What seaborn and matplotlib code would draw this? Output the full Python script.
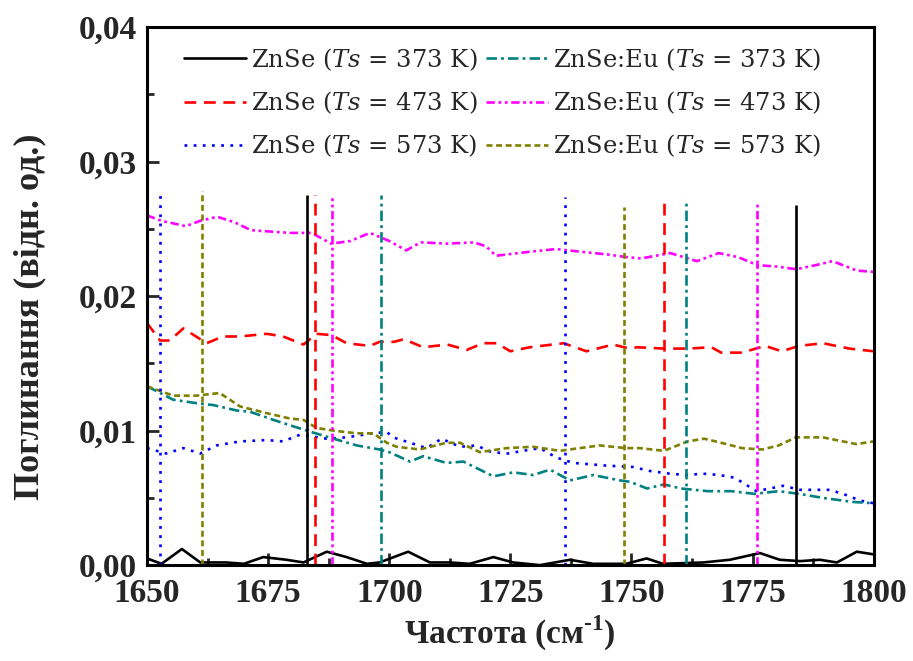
import numpy as np
import pandas as pd
import matplotlib
matplotlib.use("Agg")
import matplotlib.pyplot as plt
import seaborn as sns
from matplotlib.ticker import MultipleLocator, FuncFormatter

# ---------------- data ----------------
x_373 = [1650, 1653, 1657.2, 1661, 1666.4, 1670, 1674, 1678.8, 1682.3, 1687.1, 1691.2, 1695.4, 1698,
         1703.9, 1708.4, 1712.5, 1716.6, 1721.5, 1725.6, 1731.1, 1737.3, 1742.1, 1748.9, 1753.1,
         1756.5, 1764.8, 1770.3, 1776.5, 1780.6, 1784.8, 1788.9, 1792.4, 1796.5, 1800]
y_373 = [0.0005, 0.0001, 0.0012, 0.0002, 0.0002, 0.0001, 0.0006, 0.0004, 0.0002, 0.0010, 0.0006, 0.0001,
         0.0002, 0.0010, 0.0002, 0.0002, 0.0001, 0.0006, 0.0002, 0.0000, 0.0004, 0.0001, 0.0001, 0.0005,
         0.0001, 0.0002, 0.0004, 0.0009, 0.0004, 0.0003, 0.0004, 0.0002, 0.0010, 0.0008]

x_473 = [1650, 1652.7, 1654.7, 1657.5, 1662.3, 1665.7, 1669.2, 1674.7, 1678.1, 1682.3, 1685, 1688.1,
         1691.2, 1696, 1698, 1701, 1703, 1707, 1712, 1716, 1719.4, 1722.2, 1725, 1729, 1736, 1740.7,
         1746.2, 1749.6, 1751.2, 1756.7, 1761.6, 1766.5, 1768.5, 1772.8, 1777.6, 1781, 1784.6, 1789.5,
         1795, 1800]
y_473 = [0.0180, 0.0167, 0.0167, 0.0176, 0.0165, 0.0170, 0.0170, 0.0172, 0.0170, 0.0164, 0.0172, 0.0171,
         0.0165, 0.0163, 0.0166, 0.0166, 0.0168, 0.0162, 0.0164, 0.0160, 0.0165, 0.0165, 0.0159, 0.0162,
         0.0165, 0.0159, 0.0164, 0.0161, 0.0162, 0.0161, 0.0161, 0.0162, 0.0158, 0.0158, 0.0163, 0.0159,
         0.0163, 0.0165, 0.0161, 0.0159]

x_573 = [1650, 1654, 1657.5, 1661, 1664.4, 1669.2, 1674.7, 1678.1, 1681.6, 1687.1, 1691.2, 1696.6,
         1699.5, 1700.8, 1704.3, 1707.7, 1710.8, 1714.6, 1718, 1721.1, 1724.5, 1727.6, 1731.1, 1734.5,
         1738, 1741.4, 1744.8, 1750.3, 1753.8, 1757.9, 1761.3, 1764.8, 1768.2, 1771.3, 1775.8, 1781.3,
         1784.8, 1791, 1794.4, 1797.2, 1800]
y_573 = [0.0087, 0.0083, 0.0087, 0.0083, 0.0089, 0.0092, 0.0093, 0.0092, 0.0097, 0.0094, 0.0095, 0.0098,
         0.0099, 0.0095, 0.0091, 0.0087, 0.0094, 0.0088, 0.0089, 0.0084, 0.0083, 0.0085, 0.0087, 0.0080,
         0.0076, 0.0075, 0.0074, 0.0073, 0.0070, 0.0068, 0.0067, 0.0068, 0.0067, 0.0065, 0.0055, 0.0059,
         0.0056, 0.0056, 0.0052, 0.0048, 0.0046]

x_eu373 = [1650, 1655.4, 1661, 1663.7, 1668.5, 1671.3, 1676.1, 1679.5, 1683, 1688.5, 1693.3, 1698, 1700,
           1704.3, 1707, 1711.8, 1715.3, 1718.7, 1721.5, 1725.6, 1729.7, 1733.2, 1737.3, 1742.1, 1747.6,
           1749.7, 1753.2, 1756.7, 1760.2, 1765.7, 1770.6, 1775.4, 1780.4, 1784.6, 1789.5, 1795.7, 1800]
y_eu373 = [0.0133, 0.0123, 0.0120, 0.0119, 0.0115, 0.0114, 0.0108, 0.0104, 0.0100, 0.0094, 0.0089, 0.0086,
           0.0084, 0.0077, 0.0081, 0.0076, 0.0077, 0.0071, 0.0066, 0.0069, 0.0067, 0.0071, 0.0063, 0.0067,
           0.0063, 0.0062, 0.0057, 0.0060, 0.0057, 0.0055, 0.0055, 0.0053, 0.0055, 0.0053, 0.0050, 0.0047,
           0.0046]

x_eu473 = [1650, 1653, 1658, 1661, 1664.5, 1668, 1671.5, 1679.5, 1684, 1688, 1692, 1696, 1700, 1703.5,
           1706.5, 1712, 1717.5, 1720, 1722, 1729, 1734.5, 1739.5, 1745, 1749, 1752, 1758, 1763.5, 1768,
           1772, 1776, 1780, 1784, 1788, 1791.5, 1796.5, 1800]
y_eu473 = [0.0260, 0.0256, 0.0252, 0.0256, 0.0259, 0.0255, 0.0249, 0.0247, 0.0247, 0.0239, 0.0241, 0.0247,
           0.0241, 0.0234, 0.0240, 0.0239, 0.0240, 0.0237, 0.0230, 0.0233, 0.0235, 0.0233, 0.0231, 0.0229,
           0.0228, 0.0232, 0.0226, 0.0232, 0.0229, 0.0223, 0.0222, 0.0220, 0.0223, 0.0226, 0.0219, 0.0218]

x_eu573 = [1650, 1655.4, 1660.2, 1665, 1669.2, 1674.7, 1679.5, 1682.3, 1685, 1688.5, 1693.3, 1696.7,
           1699.5, 1701.5, 1706.3, 1711.8, 1714.6, 1718.7, 1724.2, 1729.7, 1735.2, 1739.3, 1743.4, 1748.9,
           1751.7, 1756.7, 1761.6, 1765, 1768.5, 1772.8, 1777, 1780.4, 1783.9, 1789.5, 1796.4, 1800]
y_eu573 = [0.0133, 0.0126, 0.0126, 0.0128, 0.0118, 0.0113, 0.0109, 0.0108, 0.0102, 0.0100, 0.0098, 0.0098,
           0.0091, 0.0088, 0.0086, 0.0091, 0.0091, 0.0084, 0.0087, 0.0088, 0.0085, 0.0087, 0.0089, 0.0087,
           0.0087, 0.0085, 0.0092, 0.0094, 0.0091, 0.0087, 0.0086, 0.0089, 0.0095, 0.0095, 0.0090, 0.0092]

# vertical marker lines (position, top) per series
vx_373 = [1683, 1784];        vtop_373 = [0.0275, 0.0268]
vx_473 = [1684.7, 1756.7];    vtop_473 = [0.0275, 0.0270]
vx_573 = [1652.7, 1736.2];    vtop_573 = [0.0278, 0.0274]
vx_eu373 = [1698.3, 1761.3];  vtop_eu373 = [0.0275, 0.0272]
vx_eu473 = [1688.2, 1776.0];  vtop_eu473 = [0.0274, 0.0270]
vx_eu573 = [1661.3, 1748.4];  vtop_eu573 = [0.0278, 0.0266]

labels = ["ZnSe ($\\mathit{Ts}$ = 373 K)", "ZnSe ($\\mathit{Ts}$ = 473 K)", "ZnSe ($\\mathit{Ts}$ = 573 K)",
          "ZnSe:Eu ($\\mathit{Ts}$ = 373 K)", "ZnSe:Eu ($\\mathit{Ts}$ = 473 K)", "ZnSe:Eu ($\\mathit{Ts}$ = 573 K)"]
x_ticks = [1650, 1675, 1700, 1725, 1750, 1775, 1800]
y_ticks = [0.00, 0.01, 0.02, 0.03, 0.04]

# ---------------- style ----------------
sns.set_style("ticks")
plt.rcParams["font.family"] = ["Liberation Serif", "DejaVu Serif"]
plt.rcParams["mathtext.fontset"] = "custom"
plt.rcParams["mathtext.rm"] = "Liberation Serif:bold"
plt.rcParams["mathtext.it"] = "DejaVu Serif:italic"
plt.rcParams["mathtext.bf"] = "Liberation Serif:bold"
plt.rcParams["lines.scale_dashes"] = False

series = [
    (x_373, y_373, vx_373, vtop_373, "#000000", "-"),
    (x_473, y_473, vx_473, vtop_473, "#FF0000", (0, (8.5, 5.5))),
    (x_573, y_573, vx_573, vtop_573, "#0000FF", (0, (2.0, 4.6))),
    (x_eu373, y_eu373, vx_eu373, vtop_eu373, "#008080", (0, (7.5, 3.0, 2.0, 3.0))),
    (x_eu473, y_eu473, vx_eu473, vtop_eu473, "#FF00FF", (0, (6.0, 2.6, 2.0, 2.6, 2.0, 2.6))),
    (x_eu573, y_eu573, vx_eu573, vtop_eu573, "#808000", (0, (4.3, 2.6))),
]

fig = plt.figure(figsize=(9.13, 6.61), dpi=100)
ax = fig.add_axes([0.161, 0.145, 0.796, 0.814])

lw = 1.9
for (xs, ys, vx, vt, col, ls), lab in zip(series, labels):
    df = pd.DataFrame({"x": xs, "y": ys})
    sns.lineplot(data=df, x="x", y="y", ax=ax, color=col, linestyle=ls, linewidth=lw,
                 label=lab, estimator=None, sort=True)
for (xs, ys, vx, vt, col, ls) in series:
    ax.vlines(vx, 0, vt, colors=col, linestyles=[ls], linewidth=lw)

ax.set_xlim(1650, 1800)
ax.set_ylim(0, 0.04)
ax.set_xticks(x_ticks)
ax.set_yticks(y_ticks)
ax.xaxis.set_minor_locator(MultipleLocator(12.5))
ax.yaxis.set_minor_locator(MultipleLocator(0.005))
ax.yaxis.set_major_formatter(FuncFormatter(lambda v, p: f"{v:.2f}".replace(".", ",")))
ax.xaxis.set_major_formatter(FuncFormatter(lambda v, p: f"{v:.0f}"))

ax.tick_params(axis="both", which="major", direction="in", length=8.6, width=2, labelsize=24)
ax.tick_params(axis="y", which="major", pad=7)
ax.tick_params(axis="x", which="major", pad=9)
ax.tick_params(axis="both", which="minor", direction="in", length=5, width=2)
ax.tick_params(top=False, right=False, which="both")
for lab in ax.get_xticklabels() + ax.get_yticklabels():
    lab.set_fontweight("bold")
for sp in ax.spines.values():
    sp.set_linewidth(2.2)
    sp.set_color("black")

ax.set_xlabel("Частота (см$^{\\text{-1}}$)", fontsize=24, fontweight="bold")
ax.set_ylabel("Поглинання (відн. од.)", fontsize=26, fontweight="bold")
ax.xaxis.set_label_coords(0.499, -0.090)
ax.yaxis.set_label_coords(-0.138, 0.461)

leg = ax.legend(loc="upper left", bbox_to_anchor=(0.038, 0.983), ncol=2, frameon=False,
                prop={"family": "DejaVu Serif", "size": 17.5},
                handlelength=2.55, handletextpad=0.2, columnspacing=0.33,
                labelspacing=0.69, borderaxespad=0.0)
for line in leg.get_lines():
    line.set_linewidth(lw)

fig.savefig("out.png", dpi=100)
